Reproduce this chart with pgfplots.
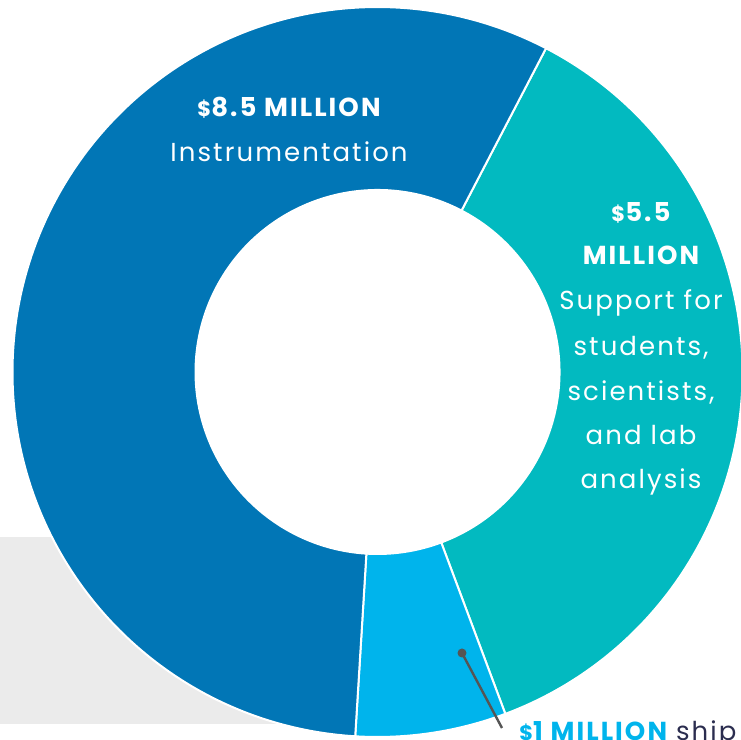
\documentclass[border=0pt]{standalone}
\usepackage{fontspec}
\setmainfont{Poppins}[LetterSpace=8]
\usepackage{pgfplots}
\pgfplotsset{compat=1.18}
\definecolor{cBlue}{HTML}{0176B6}
\definecolor{cTeal}{HTML}{02BAC0}
\definecolor{cLight}{HTML}{00B4EC}
\definecolor{cGray}{HTML}{EBEBEB}
\definecolor{cNavy}{HTML}{2B2D4F}
\definecolor{cPin}{HTML}{555555}
\newcommand\dol{{\fontsize{10.5}{10}\selectfont\$}}
\newcommand\wedgeseg[3]{%
  \fill[#3, draw=white, line width=1pt]
    (axis cs:{\cx+\Rout*cos(#1)},{\cy+\Rout*sin(#1)})
    arc[start angle=#1,end angle=#2,radius=\Rout]
    -- (axis cs:{\cx+\Rin*cos(#2)},{\cy+\Rin*sin(#2)})
    arc[start angle=#2,end angle=#1,radius=\Rin] -- cycle;}
\begin{document}
\begin{tikzpicture}
% values (million $)
\def\vTeal{5.5}
\def\vLight{1}
\def\vBlue{8.5}
\pgfmathsetmacro\tot{\vTeal+\vLight+\vBlue}
\pgfmathsetmacro\aA{90-27.5}
\pgfmathsetmacro\aB{\aA-360*\vTeal/\tot}
\pgfmathsetmacro\aC{\aB-360*\vLight/\tot}
\pgfmathsetmacro\aD{\aC-360*\vBlue/\tot}
\def\cx{377.5}
\def\cy{368}
\def\Rout{365}
\def\Rin{182}
\begin{axis}[width=370.5pt,height=370pt,scale only axis,
  xmin=0,xmax=741,ymin=0,ymax=740,hide axis,clip=true]
\addplot[draw=none] coordinates {(0,0) (741,740)};
\fill[cGray] (axis cs:0,16) rectangle (axis cs:330,203);
\wedgeseg{\aA}{\aB}{cTeal}
\wedgeseg{\aB}{\aC}{cLight}
\wedgeseg{\aC}{\aD}{cBlue}
\fill[white] (axis cs:\cx,\cy) circle[radius=\Rin-0.5];
\draw[cPin, line width=1.2pt] (axis cs:462,87) -- (axis cs:502,12);
\fill[cPin] (axis cs:462,87) circle[radius=4.5];
\tikzset{lbl/.style={anchor=base, text=white, inner sep=0pt, font=\fontsize{13}{15}\selectfont}}
\node[lbl, font=\fontsize{13}{15}\selectfont\bfseries] at (axis cs:289,623) {\dol8.5 MILLION};
\node[lbl] at (axis cs:289,578) {Instrumentation};
\node[lbl, font=\fontsize{13}{15}\selectfont\bfseries] at (axis cs:641,518) {\dol5.5};
\node[lbl, font=\fontsize{13}{15}\selectfont\bfseries] at (axis cs:641,475) {MILLION};
\node[lbl] at (axis cs:641,430) {Support for};
\node[lbl] at (axis cs:641,384) {students,};
\node[lbl] at (axis cs:641,339) {scientists,};
\node[lbl] at (axis cs:641,295) {and lab};
\node[lbl] at (axis cs:641,251) {analysis};
\node[anchor=base west, inner sep=0pt, font=\fontsize{13}{15}\selectfont] at (axis cs:519,-1) {\textcolor{cLight}{\bfseries\dol1 MILLION} \textcolor{cNavy}{ship time}};
\end{axis}
\pgfresetboundingbox
\path[use as bounding box] (current axis.south west) rectangle (current axis.north east);
\end{tikzpicture}
\end{document}
